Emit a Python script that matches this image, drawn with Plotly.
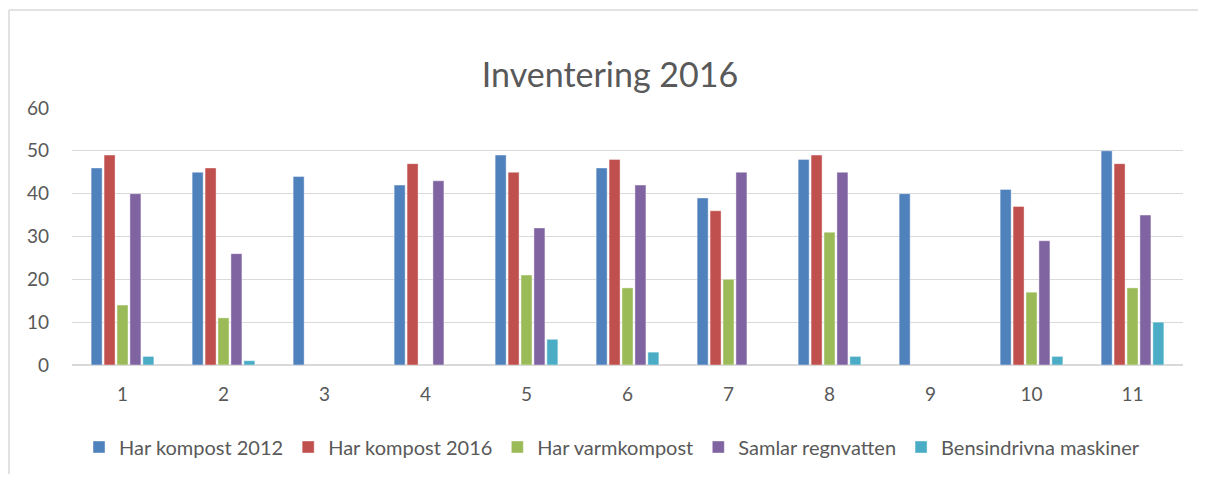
import plotly.graph_objects as go

categories = ["1", "2", "3", "4", "5", "6", "7", "8", "9", "10", "11"]
har_kompost_2012 = [46, 45, 44, 42, 49, 46, 39, 48, 40, 41, 50]
har_kompost_2016 = [49, 46, 0, 47, 45, 48, 36, 49, 0, 37, 47]
har_varmkompost = [14, 11, 0, 0, 21, 18, 20, 31, 0, 17, 18]
samlar_regnvatten = [40, 26, 0, 43, 32, 42, 45, 45, 0, 29, 35]
bensindrivna_maskiner = [2, 1, 0, 0, 6, 3, 0, 2, 0, 2, 10]
y_ticks = [0, 10, 20, 30, 40, 50, 60]

series = [
    ("Har kompost 2012", har_kompost_2012, "#4F81BD"),
    ("Har kompost 2016", har_kompost_2016, "#C0504D"),
    ("Har varmkompost", har_varmkompost, "#9BBB59"),
    ("Samlar regnvatten", samlar_regnvatten, "#8064A2"),
    ("Bensindrivna maskiner", bensindrivna_maskiner, "#4BACC6"),
]

# page has an 8px body margin on every side; keep the figure inside the window
OFF = 8
W, H = 1206 - 2 * OFF, 482 - 2 * OFF
L, R, T, B = 72 - OFF, 1183 - OFF, 108 - OFF, 365 - OFF
pw, ph = R - L, B - T

fig = go.Figure()
for name, vals, col in series:
    fig.add_trace(go.Bar(
        x=categories, y=[v if v != 0 else None for v in vals], name=name,
        marker=dict(color=col, line=dict(color="rgba(255,255,255,0.5)", width=0.8)),
    ))

font_family = "Lato, 'Open Sans', sans-serif"
border = dict(color="#D9D9D9", width=1.5)
fig.update_layout(
    width=W, height=H,
    margin=dict(l=L, r=W - R, t=T, b=H - B, autoexpand=False),
    paper_bgcolor="white", plot_bgcolor="white",
    barmode="group", bargap=0.36, bargroupgap=0.15,
    font=dict(family=font_family, color="#595959", size=16),
    title=dict(text="Inventering 2016", x=(610 - OFF - L) / pw, xref="paper", xanchor="center",
               y=1 - (75 - OFF) / H, yref="container", yanchor="middle",
               font=dict(size=34, color="#595959", family=font_family)),
    showlegend=True,
    legend=dict(orientation="h", x=(612 - OFF - L) / pw, xanchor="center",
                y=(B - (447 - OFF)) / ph, yanchor="middle",
                font=dict(size=20, color="#595959"), traceorder="normal",
                itemwidth=30, tracegroupgap=0),
    xaxis=dict(type="category", showgrid=False, showline=False, ticks="",
               ticklabelstandoff=16, tickfont=dict(size=19), automargin=False),
    yaxis=dict(range=[0, 60], tickvals=y_ticks, showgrid=True, gridcolor="#D9D9D9",
               gridwidth=1.3, zeroline=True, zerolinecolor="#D9D9D9", zerolinewidth=1.5,
               showline=False, ticks="", ticklabelstandoff=22, tickfont=dict(size=19),
               automargin=False),
    shapes=[
        dict(type="line", xref="paper", yref="paper",
             x0=(1 - L) / pw, x1=(W - L) / pw, y0=(B - 2) / ph, y1=(B - 2) / ph,
             line=border, layer="below"),
        dict(type="line", xref="paper", yref="paper",
             x0=(1 - L) / pw, x1=(1 - L) / pw, y0=(B - 2) / ph, y1=(B - H) / ph,
             line=border, layer="below"),
    ],
)

fig.write_html("out.html")
